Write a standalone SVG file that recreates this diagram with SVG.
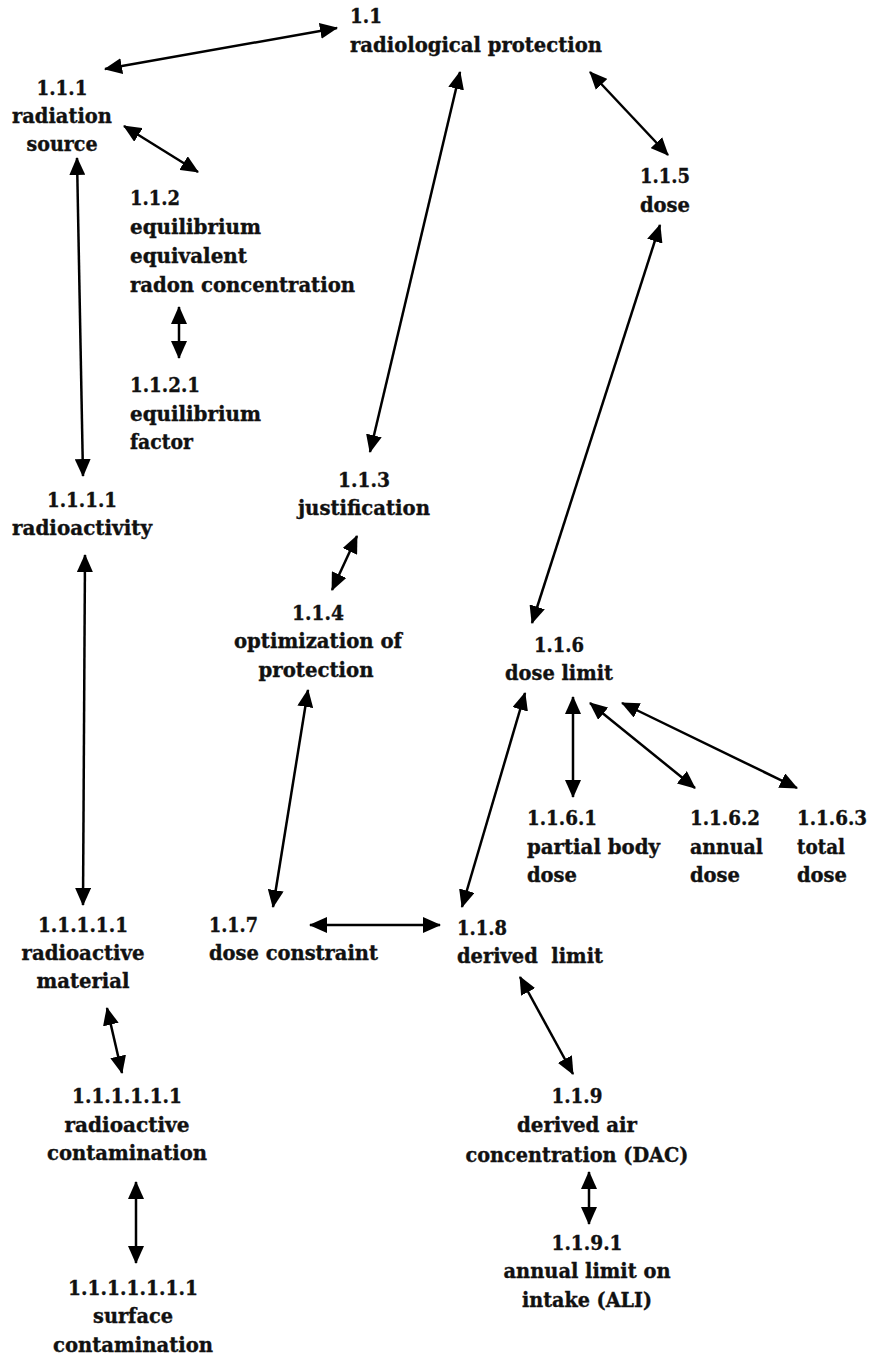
<svg xmlns="http://www.w3.org/2000/svg" width="871" height="1357" viewBox="0 0 871 1357">
<style>
  .t { font-family: 'DejaVu Serif Condensed', 'DejaVu Serif', serif; font-weight: bold; font-size: 21px; fill: #111; stroke: #111; stroke-width: 0.35px; }
  .c { text-anchor: middle; }
  .l { text-anchor: start; }
  .a { stroke: #000; stroke-width: 2.5; fill: none; marker-start: url(#ah); marker-end: url(#ah); }
</style>
<defs>
  <marker id="ah" markerUnits="userSpaceOnUse" markerWidth="18" markerHeight="16" refX="17" refY="8" orient="auto-start-reverse" viewBox="0 0 18 16">
    <path d="M0,0 L18,8 L0,16 z" fill="#000"/>
  </marker>
</defs>
<rect width="871" height="1357" fill="#fff"/>

<g id="connectors">
  <line class="a" x1="105" y1="69" x2="337" y2="28"/>
  <line class="a" x1="124" y1="126" x2="198" y2="172"/>
  <line class="a" x1="179" y1="307" x2="179" y2="358"/>
  <line class="a" x1="77" y1="158" x2="83" y2="476"/>
  <line class="a" x1="460" y1="72" x2="370" y2="452"/>
  <line class="a" x1="590" y1="72" x2="668" y2="155"/>
  <line class="a" x1="660" y1="225" x2="532" y2="623"/>
  <line class="a" x1="357" y1="536" x2="332" y2="590"/>
  <line class="a" x1="308" y1="690" x2="273" y2="907"/>
  <line class="a" x1="573" y1="697" x2="573" y2="797"/>
  <line class="a" x1="590" y1="703" x2="695" y2="788"/>
  <line class="a" x1="622" y1="703" x2="797" y2="788"/>
  <line class="a" x1="462" y1="907" x2="525" y2="693"/>
  <line class="a" x1="310" y1="925" x2="440" y2="925"/>
  <line class="a" x1="85" y1="555" x2="83" y2="905"/>
  <line class="a" x1="107" y1="1008" x2="122" y2="1073"/>
  <line class="a" x1="136" y1="1182" x2="136" y2="1263"/>
  <line class="a" x1="520" y1="977" x2="573" y2="1074"/>
  <line class="a" x1="589" y1="1172" x2="589" y2="1224"/>
</g>

<g id="n-1-1">
  <text class="t l"><tspan x="350" y="23" textLength="32" lengthAdjust="spacingAndGlyphs">1.1</tspan><tspan x="350" y="52" textLength="252" lengthAdjust="spacingAndGlyphs">radiological protection</tspan></text>
</g>
<g id="n-1-1-1">
  <text class="t c"><tspan x="62" y="95" textLength="51" lengthAdjust="spacingAndGlyphs">1.1.1</tspan><tspan x="62" y="123" textLength="100" lengthAdjust="spacingAndGlyphs">radiation</tspan><tspan x="62" y="151" textLength="71" lengthAdjust="spacingAndGlyphs">source</tspan></text>
</g>
<g id="n-1-1-2">
  <text class="t l"><tspan x="130" y="205" textLength="50" lengthAdjust="spacingAndGlyphs">1.1.2</tspan><tspan x="130" y="234" textLength="131" lengthAdjust="spacingAndGlyphs">equilibrium</tspan><tspan x="130" y="263" textLength="117" lengthAdjust="spacingAndGlyphs">equivalent</tspan><tspan x="130" y="292" textLength="225" lengthAdjust="spacingAndGlyphs">radon concentration</tspan></text>
</g>
<g id="n-1-1-2-1">
  <text class="t l"><tspan x="130" y="392" textLength="70" lengthAdjust="spacingAndGlyphs">1.1.2.1</tspan><tspan x="130" y="421" textLength="131" lengthAdjust="spacingAndGlyphs">equilibrium</tspan><tspan x="130" y="449" textLength="63" lengthAdjust="spacingAndGlyphs">factor</tspan></text>
</g>
<g id="n-1-1-1-1">
  <text class="t c"><tspan x="82" y="507" textLength="70" lengthAdjust="spacingAndGlyphs">1.1.1.1</tspan><tspan x="82" y="535" textLength="140" lengthAdjust="spacingAndGlyphs">radioactivity</tspan></text>
</g>
<g id="n-1-1-3">
  <text class="t c"><tspan x="364" y="487" textLength="52" lengthAdjust="spacingAndGlyphs">1.1.3</tspan><tspan x="364" y="515" textLength="132" lengthAdjust="spacingAndGlyphs">justification</tspan></text>
</g>
<g id="n-1-1-4">
  <text class="t c"><tspan x="318" y="620" textLength="52" lengthAdjust="spacingAndGlyphs">1.1.4</tspan><tspan x="318" y="648" textLength="168" lengthAdjust="spacingAndGlyphs">optimization of</tspan><tspan x="316" y="677" textLength="115" lengthAdjust="spacingAndGlyphs">protection</tspan></text>
</g>
<g id="n-1-1-5">
  <text class="t c"><tspan x="665" y="183" textLength="50" lengthAdjust="spacingAndGlyphs">1.1.5</tspan><tspan x="665" y="212" textLength="50" lengthAdjust="spacingAndGlyphs">dose</tspan></text>
</g>
<g id="n-1-1-6">
  <text class="t c"><tspan x="559" y="652" textLength="50" lengthAdjust="spacingAndGlyphs">1.1.6</tspan><tspan x="559" y="680" textLength="108" lengthAdjust="spacingAndGlyphs">dose limit</tspan></text>
</g>
<g id="n-1-1-6-1">
  <text class="t l"><tspan x="527" y="825" textLength="70" lengthAdjust="spacingAndGlyphs">1.1.6.1</tspan><tspan x="527" y="854" textLength="133" lengthAdjust="spacingAndGlyphs">partial body</tspan><tspan x="527" y="882" textLength="50" lengthAdjust="spacingAndGlyphs">dose</tspan></text>
</g>
<g id="n-1-1-6-2">
  <text class="t l"><tspan x="690" y="825" textLength="70" lengthAdjust="spacingAndGlyphs">1.1.6.2</tspan><tspan x="690" y="854" textLength="73" lengthAdjust="spacingAndGlyphs">annual</tspan><tspan x="690" y="882" textLength="50" lengthAdjust="spacingAndGlyphs">dose</tspan></text>
</g>
<g id="n-1-1-6-3">
  <text class="t l"><tspan x="797" y="825" textLength="70" lengthAdjust="spacingAndGlyphs">1.1.6.3</tspan><tspan x="797" y="854" textLength="48" lengthAdjust="spacingAndGlyphs">total</tspan><tspan x="797" y="882" textLength="50" lengthAdjust="spacingAndGlyphs">dose</tspan></text>
</g>
<g id="n-1-1-1-1-1">
  <text class="t c"><tspan x="83" y="932" textLength="90" lengthAdjust="spacingAndGlyphs">1.1.1.1.1</tspan><tspan x="83" y="960" textLength="123" lengthAdjust="spacingAndGlyphs">radioactive</tspan><tspan x="83" y="988" textLength="93" lengthAdjust="spacingAndGlyphs">material</tspan></text>
</g>
<g id="n-1-1-7">
  <text class="t l"><tspan x="209" y="932" textLength="49" lengthAdjust="spacingAndGlyphs">1.1.7</tspan><tspan x="209" y="960" textLength="169" lengthAdjust="spacingAndGlyphs">dose constraint</tspan></text>
</g>
<g id="n-1-1-8">
  <text class="t l" xml:space="preserve"><tspan x="457" y="935" textLength="50" lengthAdjust="spacingAndGlyphs">1.1.8</tspan><tspan x="457" y="963" textLength="146" lengthAdjust="spacingAndGlyphs">derived  limit</tspan></text>
</g>
<g id="n-1-1-1-1-1-1">
  <text class="t c"><tspan x="127" y="1103" textLength="110" lengthAdjust="spacingAndGlyphs">1.1.1.1.1.1</tspan><tspan x="127" y="1132" textLength="125" lengthAdjust="spacingAndGlyphs">radioactive</tspan><tspan x="127" y="1160" textLength="160" lengthAdjust="spacingAndGlyphs">contamination</tspan></text>
</g>
<g id="n-1-1-1-1-1-1-1">
  <text class="t c"><tspan x="133" y="1295" textLength="130" lengthAdjust="spacingAndGlyphs">1.1.1.1.1.1.1</tspan><tspan x="133" y="1323" textLength="80" lengthAdjust="spacingAndGlyphs">surface</tspan><tspan x="133" y="1352" textLength="160" lengthAdjust="spacingAndGlyphs">contamination</tspan></text>
</g>
<g id="n-1-1-9">
  <text class="t c"><tspan x="577" y="1103" textLength="51" lengthAdjust="spacingAndGlyphs">1.1.9</tspan><tspan x="577" y="1132" textLength="120" lengthAdjust="spacingAndGlyphs">derived air</tspan><tspan x="577" y="1162" textLength="223" lengthAdjust="spacingAndGlyphs">concentration (DAC)</tspan></text>
</g>
<g id="n-1-1-9-1">
  <text class="t c"><tspan x="587" y="1250" textLength="71" lengthAdjust="spacingAndGlyphs">1.1.9.1</tspan><tspan x="587" y="1278" textLength="167" lengthAdjust="spacingAndGlyphs">annual limit on</tspan><tspan x="587" y="1307" textLength="130" lengthAdjust="spacingAndGlyphs">intake (ALI)</tspan></text>
</g>
</svg>
